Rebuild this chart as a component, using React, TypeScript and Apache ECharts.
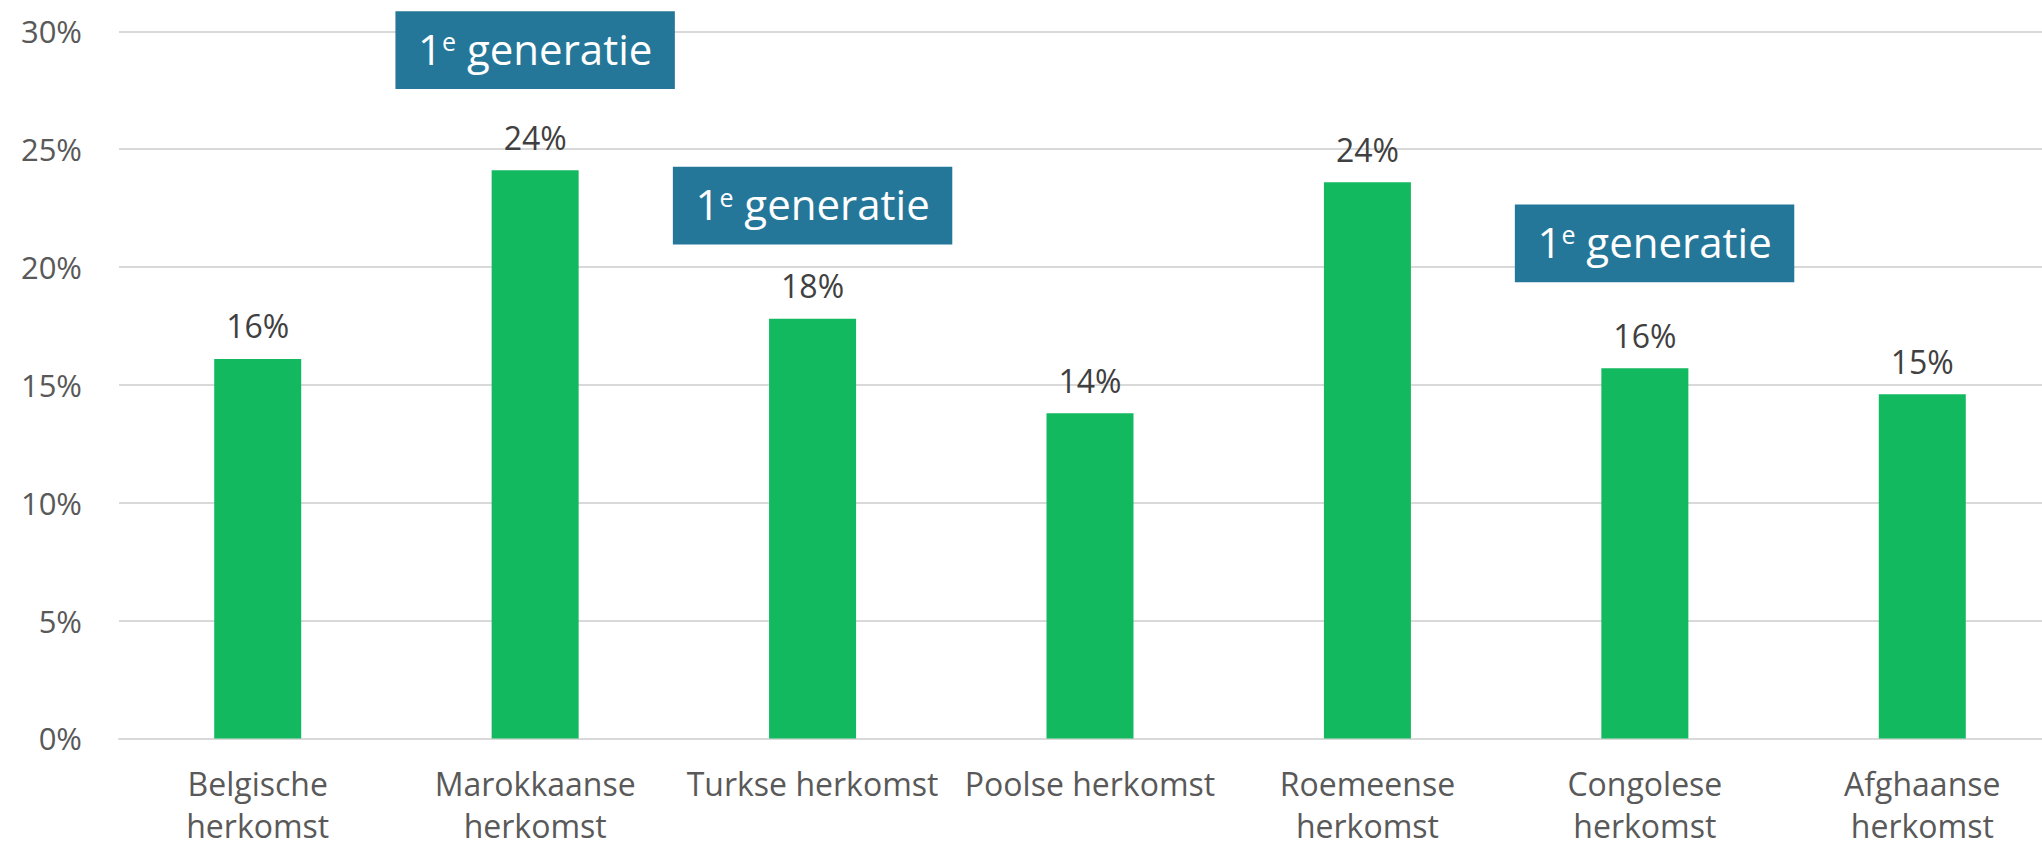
import React, { useEffect, useRef } from "react";
import * as echarts from "echarts";

const categories = [
  "Belgische\nherkomst",
  "Marokkaanse\nherkomst",
  "Turkse herkomst",
  "Poolse herkomst",
  "Roemeense\nherkomst",
  "Congolese\nherkomst",
  "Afghaanse\nherkomst",
];
const values = [16.1, 24.1, 17.8, 13.8, 23.6, 15.7, 14.6];

const yTicks = [0, 5, 10, 15, 20, 25, 30];

// annotation boxes "1e generatie"
const annCategory = [1, 2, 5];
const annTop = [30.85, 24.25, 22.65];
const annBottom = [27.55, 20.95, 19.35];
const annShift = [0, 0, 0.035];

const FONT = "'Open Sans', 'Noto Sans', sans-serif";
const BAR_COLOR = "#12B95F";
const BOX_COLOR = "#25779A";

export default function App() {
  const ref = useRef<HTMLDivElement>(null);
  useEffect(() => {
    if (!ref.current) return;
    const chart = echarts.init(ref.current, null, { renderer: "svg" });
    const annData = annCategory.map((c, i) => [c, annTop[i], annBottom[i], annShift[i]]);
    chart.setOption({
      animation: false,
      grid: { left: 119, right: 0, top: 31.3, bottom: 108.6, containLabel: false },
      xAxis: {
        type: "category",
        data: categories,
        axisLine: { show: true, lineStyle: { color: "#D9D9D9", width: 2 } },
        axisTick: { show: false },
        axisLabel: {
          interval: 0,
          margin: 24,
          fontSize: 32,
          lineHeight: 42,
          color: "#595959",
          fontFamily: FONT,
        },
      },
      yAxis: {
        type: "value",
        min: yTicks[0],
        max: yTicks[yTicks.length - 1],
        interval: 5,
        axisLine: { show: false },
        axisTick: { show: false },
        splitLine: { lineStyle: { color: "#D9D9D9", width: 2 } },
        axisLabel: {
          margin: 37,
          fontSize: 31,
          color: "#595959",
          fontFamily: FONT,
          formatter: (v: number) => `${v}%`,
        },
      },
      series: [
        {
          type: "bar",
          data: values,
          barWidth: 87,
          itemStyle: { color: BAR_COLOR },
          label: {
            show: true,
            position: "top",
            distance: 17,
            fontSize: 32,
            color: "#404040",
            fontFamily: FONT,
            formatter: (p: any) => `${Math.round(p.value)}%`,
          },
        },
        {
          type: "custom",
          clip: false,
          data: annData,
          renderItem: (params: any, api: any) => {
            const cat = api.value(0);
            const top = api.value(1);
            const bottom = api.value(2);
            const shift = api.value(3);
            const bandW = api.size([1, 0])[0];
            const pTop = api.coord([cat, top]);
            const pBot = api.coord([cat, bottom]);
            const w = bandW + 2;
            const x = pTop[0] - w / 2 + shift * bandW;
            const h = pBot[1] - pTop[1];
            return {
              type: "group",
              children: [
                {
                  type: "rect",
                  shape: { x, y: pTop[1], width: w, height: h },
                  style: { fill: BOX_COLOR },
                },
                {
                  type: "text",
                  x: x + w / 2,
                  y: pTop[1] + h / 2 - 2,
                  style: {
                    text: "{n|1}{s|e}{n| generatie}",
                    align: "center",
                    verticalAlign: "middle",
                    fill: "#FFFFFF",
                    fontFamily: FONT,
                    fontSize: 42,
                    rich: {
                      n: { fontSize: 42, fill: "#FFFFFF", fontFamily: FONT, lineHeight: 50 },
                      s: {
                        fontSize: 25,
                        fill: "#FFFFFF",
                        fontFamily: FONT,
                        verticalAlign: "middle",
                        lineHeight: 25,
                        padding: [0, 0, 14, 0],
                      },
                    },
                  },
                },
              ],
            };
          },
        },
      ],
    });
    return () => chart.dispose();
  }, []);
  return (
    <div style={{ position: "fixed", left: 0, top: 0, width: 2042, height: 847, overflow: "hidden", background: "#fff" }}>
      <div ref={ref} style={{ position: "absolute", left: 0, top: 0, width: 2061, height: 847 }} />
    </div>
  );
}
